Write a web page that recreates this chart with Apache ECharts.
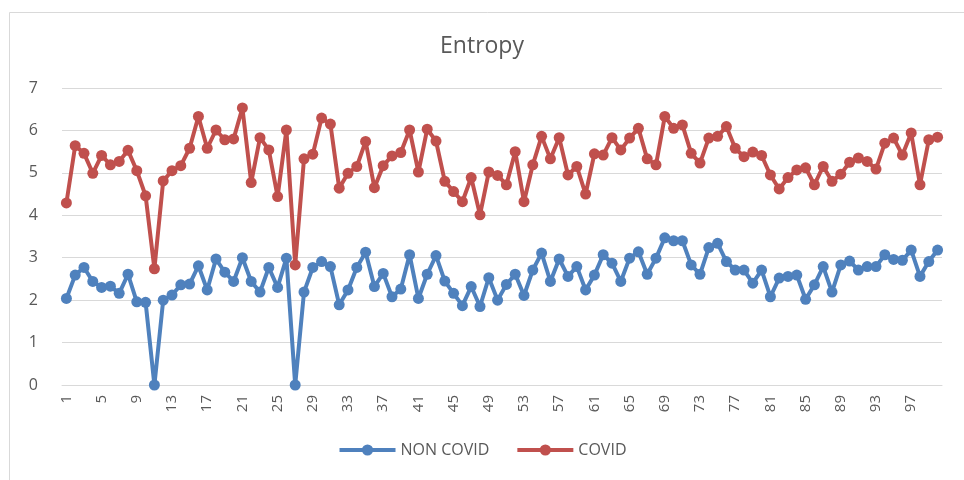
<!DOCTYPE html>
<html>
<head>
<meta charset="utf-8">
<script src="https://cdn.jsdelivr.net/npm/echarts@6/dist/echarts.min.js"></script>
<style>
html,body{margin:0;padding:0;background:#fff;}
#chart{width:964px;height:480px;}
</style>
</head>
<body>
<div id="chart"></div>
<script>
const categories = Array.from({length: 100}, (_, i) => String(i + 1));

const nonCovid = [
  2.04, 2.59, 2.77, 2.44, 2.30, 2.33, 2.16, 2.61, 1.96, 1.95,
  0.00, 2.00, 2.12, 2.36, 2.38, 2.81, 2.24, 2.97, 2.66, 2.44,
  3.00, 2.44, 2.19, 2.77, 2.30, 2.99, 0.00, 2.19, 2.77, 2.91,
  2.79, 1.89, 2.24, 2.77, 3.13, 2.32, 2.63, 2.08, 2.26, 3.07,
  2.04, 2.61, 3.05, 2.45, 2.16, 1.87, 2.32, 1.85, 2.53, 2.00,
  2.37, 2.61, 2.11, 2.71, 3.11, 2.44, 2.97, 2.56, 2.79, 2.24,
  2.59, 3.07, 2.87, 2.44, 2.99, 3.14, 2.61, 2.99, 3.47, 3.40,
  3.40, 2.83, 2.61, 3.24, 3.34, 2.91, 2.71, 2.71, 2.40, 2.71,
  2.08, 2.52, 2.56, 2.59, 2.02, 2.36, 2.79, 2.19, 2.83, 2.92,
  2.71, 2.79, 2.79, 3.07, 2.96, 2.94, 3.18, 2.56, 2.91, 3.18
];

const covid = [
  4.29, 5.64, 5.46, 4.99, 5.41, 5.19, 5.27, 5.53, 5.05, 4.46,
  2.74, 4.81, 5.05, 5.17, 5.58, 6.33, 5.58, 6.01, 5.78, 5.80,
  6.53, 4.77, 5.83, 5.54, 4.44, 6.01, 2.83, 5.33, 5.44, 6.29,
  6.15, 4.64, 4.99, 5.15, 5.74, 4.65, 5.17, 5.40, 5.48, 6.01,
  5.02, 6.03, 5.75, 4.80, 4.56, 4.32, 4.89, 4.01, 5.02, 4.94,
  4.72, 5.50, 4.32, 5.19, 5.86, 5.33, 5.83, 4.95, 5.15, 4.50,
  5.45, 5.42, 5.83, 5.54, 5.82, 6.05, 5.33, 5.19, 6.33, 6.05,
  6.13, 5.46, 5.23, 5.82, 5.86, 6.09, 5.58, 5.38, 5.49, 5.41,
  4.95, 4.62, 4.89, 5.07, 5.12, 4.72, 5.15, 4.80, 4.97, 5.25,
  5.35, 5.27, 5.09, 5.70, 5.82, 5.42, 5.94, 4.72, 5.78, 5.84
];

const yTicks = [0, 1, 2, 3, 4, 5, 6, 7];

const chart = echarts.init(document.getElementById('chart'), null, {renderer: 'canvas'});
const font = '"Open Sans", "Liberation Sans", sans-serif';
chart.setOption({
  animation: false,
  backgroundColor: '#ffffff',
  graphic: [{
    type: 'rect',
    shape: {x: 9.5, y: 12.5, width: 980, height: 500},
    style: {fill: 'none', stroke: '#d9d9d9', lineWidth: 1},
    silent: true
  }],
  title: {
    text: 'Entropy',
    left: 'center',
    top: 30,
    textStyle: {fontFamily: font, fontSize: 23, fontWeight: 'normal', color: '#595959'}
  },
  legend: {
    bottom: 17,
    left: 'center',
    itemWidth: 56,
    itemHeight: 14,
    itemGap: 26,
    lineStyle: {width: 4},
    textStyle: {fontFamily: font, fontSize: 16, color: '#595959'},
    data: ['NON COVID', 'COVID']
  },
  grid: {left: 62, right: 22, top: 88, bottom: 95, containLabel: false},
  xAxis: {
    type: 'category',
    data: categories,
    boundaryGap: true,
    axisLine: {show: true, lineStyle: {color: '#d9d9d9', width: 1}},
    axisTick: {show: false},
    axisLabel: {
      interval: 3,
      rotate: 90,
      margin: 10,
      fontFamily: font,
      fontSize: 15,
      color: '#595959'
    }
  },
  yAxis: {
    type: 'value',
    min: yTicks[0],
    max: yTicks[yTicks.length - 1],
    interval: 1,
    axisLine: {show: false},
    axisTick: {show: false},
    axisLabel: {fontFamily: font, fontSize: 16, color: '#595959', margin: 24},
    splitLine: {lineStyle: {color: '#d9d9d9', width: 1}}
  },
  series: [
    {
      name: 'NON COVID',
      type: 'line',
      data: nonCovid,
      symbol: 'circle',
      symbolSize: 11,
      showAllSymbol: true,
      lineStyle: {color: '#4F81BD', width: 4},
      itemStyle: {color: '#4F81BD'}
    },
    {
      name: 'COVID',
      type: 'line',
      data: covid,
      symbol: 'circle',
      symbolSize: 11,
      showAllSymbol: true,
      lineStyle: {color: '#C0504D', width: 4},
      itemStyle: {color: '#C0504D'}
    }
  ]
});
</script>
</body>
</html>
